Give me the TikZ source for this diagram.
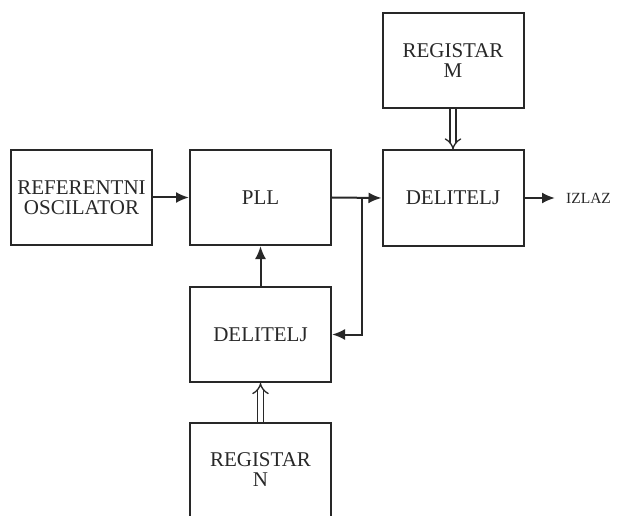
\documentclass[tikz,border=0pt]{standalone}
\usepackage{fontspec}
\setmainfont{Liberation Serif}
\usetikzlibrary{arrows.meta}
\definecolor{ink}{RGB}{40,40,40}
\tikzset{
  blk/.style={draw=ink, line width=2pt, minimum width=141pt, minimum height=95pt, inner sep=0pt,
    align=center, text=ink, font=\fontsize{21}{20}\selectfont},
  sig/.style={draw=ink, line width=2pt, -{Latex[length=13pt,width=11pt]}},
  bus/.style={draw=ink, line width=1.3pt, double=white, double distance=4.5pt, -{Implies[]}},
}
\begin{document}
\begin{tikzpicture}[x=1pt,y=-1pt]
\useasboundingbox (0,0) rectangle (619,516);
\clip (0,0) rectangle (619,516);
\node[blk] (ref) at (81.5,197.5) {REFERENTNI\\OSCILATOR};
\node[blk] (pll) at (260.5,197.5) {PLL};
\node[blk] (del1) at (453,198) {DELITELJ};
\node[blk] (regM) at (453,61) {REGISTAR\\M};
\node[blk] (del2) at (260.5,334.5) {DELITELJ};
\node[blk] (regN) at (260.5,470) {REGISTAR\\N};
\coordinate (j) at (362,198);
\coordinate (out) at (555,198);
\node[anchor=west, inner sep=0pt, text=ink, font=\fontsize{15.5}{15}\selectfont] (izlaz) at (566,198) {IZLAZ};
\draw[sig] (ref.east) -- (pll.west);
\draw[sig] (pll.east) -- (del1.west);
\draw[sig] (j) |- (del2.east);
\draw[sig] (del2.north) -- (pll.south);
\draw[sig] (del1.east) -- (out);
\draw[bus] (regM.south) -- (del1.north);
\draw[bus] (regN.north) -- (del2.south);
\end{tikzpicture}
\end{document}
